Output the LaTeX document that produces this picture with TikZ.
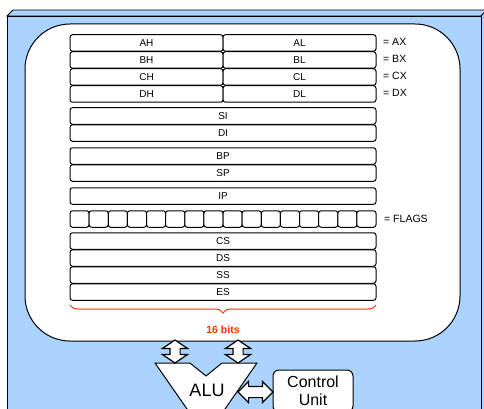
\documentclass[tikz,border=0pt]{standalone}
\usepackage{fontspec}
\setmainfont{Liberation Sans}
\usetikzlibrary{shapes.arrows,decorations.pathreplacing,calc}
\definecolor{bgblue}{RGB}{170,212,255}
\definecolor{bitred}{RGB}{255,51,0}
\begin{document}
\begin{tikzpicture}[x=1pt,y=-1pt,
  reg/.style={draw, fill=white, rounded corners=2.5pt, line width=1pt,
    minimum height=16.5pt, inner sep=0pt, font=\fontsize{10}{12}\selectfont},
  lbl/.style={anchor=west, inner sep=0pt, font=\fontsize{10.5}{12}\selectfont},
  darrow/.style={double arrow, draw, fill=white, line width=1.2pt,
    inner xsep=0pt, minimum width=0pt}]
\clip (0,0) rectangle (484,409);
\useasboundingbox (0,0) rectangle (484,409);
% outer 3D box
\draw[fill=bgblue, line width=0.8pt] (7,16) -- (13,10) -- (487,10) -- (481,16) -- cycle;
\draw[fill=bgblue, line width=0.8pt] (481,16) -- (487,10) -- (487,430) -- (481,436) -- cycle;
\draw[fill=bgblue, line width=0.8pt] (7,430) -- (7,16) -- (481,16) -- (481,430);
% inner white box
\draw[fill=white, line width=1pt, rounded corners=45pt] (25,24) rectangle (460,341);
\coordinate (wb1) at (175,340);
\coordinate (wb2) at (238,340);
% general registers
\foreach \h/\l/\x/\y in {AH/AL/AX/43, BH/BL/BX/60, CH/CL/CX/77, DH/DL/DX/94}{
  \node[reg, minimum width=153pt] (\h) at (146.5,\y) {\h};
  \node[reg, minimum width=153pt] (\l) at (299.5,\y) {\l};
  \node[lbl] (lab\x) at (383,\y-1) {= \x};
}
% full-width registers
\foreach \r/\y in {SI/116, DI/133, BP/156, SP/173, IP/196, CS/241, DS/258, SS/275, ES/292}{
  \node[reg, minimum width=306pt] (\r) at (223,\y) {\r};
}
% flags
\foreach \i in {0,...,15}{
  \node[reg, minimum width=19.125pt] (f\i) at ({70+19.125*(\i+0.5)},219) {};
}
\node[lbl] (labFLAGS) at (384,219) {= FLAGS};
% brace
\draw[bitred, line width=1pt, decorate, decoration={brace, mirror, amplitude=8pt}]
  (70,305) -- (376,305);
\node[text=bitred, font=\bfseries\fontsize{10.5}{12}\selectfont] (bits) at (223,330) {16 bits};
% ALU
\draw[fill=white, line width=1pt] (155,363) -- (190,363) -- (206,376) -- (222,363)
  -- (257,363) -- (225,409) -- (225,430) -- (187,430) -- (187,409) -- cycle;
\coordinate (alu1) at (175,363);
\coordinate (alu2) at (238,363);
\coordinate (alur) at (238,392);
\node[font=\fontsize{18}{20}\selectfont, inner sep=0pt] (alu) at (207,390) {ALU};
% control unit
\node[draw, fill=white, rounded corners=6pt, line width=1pt, minimum width=80pt,
  minimum height=42pt, align=center, font=\fontsize{16}{18}\selectfont, inner sep=0pt]
  (cu) at (313,391) {Control\\Unit};
\coordinate (cul) at (273,392);
% double arrows
\node[darrow, rotate=90, minimum height=23pt, inner ysep=4.5pt,
  double arrow head extend=7.5pt, double arrow tip angle=112]
  (va1) at ($ (wb1)!0.5!(alu1) $) {};
\node[darrow, rotate=90, minimum height=23pt, inner ysep=4.5pt,
  double arrow head extend=7.5pt, double arrow tip angle=112]
  (va2) at ($ (wb2)!0.5!(alu2) $) {};
\node[darrow, minimum height=35pt, inner ysep=5pt,
  double arrow head extend=5pt, double arrow tip angle=90]
  (ha) at ($ (alur)!0.5!(cul) $) {};
\end{tikzpicture}
\end{document}
